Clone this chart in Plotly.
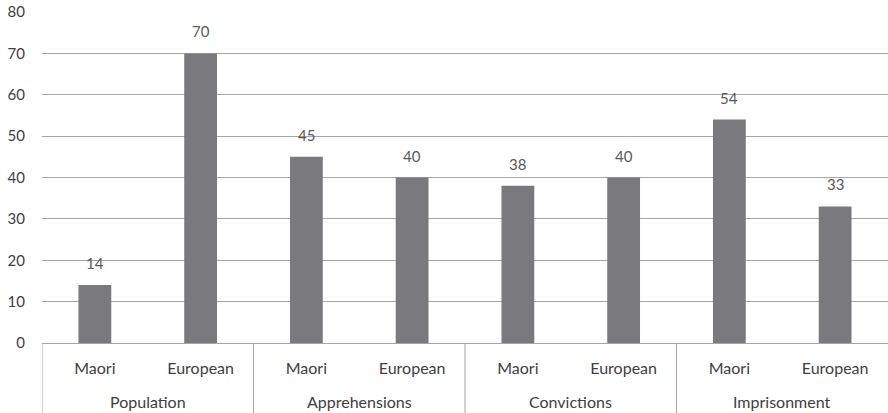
import plotly.graph_objects as go

groups = ["Population", "Apprehensions", "Convictions", "Imprisonment"]
ethnicity = ["Maori", "European", "Maori", "European",
             "Maori", "European", "Maori", "European"]
percent = [14, 70, 45, 40, 38, 40, 54, 33]

FONT = "Lato"
AXIS_GREY = "#a6a6a6"
positions = list(range(len(percent)))
per_group = len(ethnicity) // len(groups)

fig = go.Figure(
    go.Bar(
        x=positions,
        y=percent,
        width=0.31,
        marker=dict(color="#7a7a7e", line=dict(width=0)),
        hoverinfo="x+y",
    )
)

# value labels above each bar
for xi, v in zip(positions, percent):
    fig.add_annotation(
        x=xi, y=v, xref="x", yref="y",
        text=str(v), showarrow=False,
        yanchor="bottom", yshift=11,
        font=dict(family=FONT, size=15, color="#595959"),
    )

plot_h = 413 - 12 - 70

# group labels on the second row of the category axis
for gi, g in enumerate(groups):
    center = gi * per_group + (per_group - 1) / 2
    fig.add_annotation(
        x=center, xref="x", y=-(58.5 / plot_h), yref="paper",
        text=g, showarrow=False, yanchor="middle",
        font=dict(family=FONT, size=16, color="#404040"),
    )

# vertical dividers at the left edge and between groups,
# running down through both label rows
for gi in range(len(groups)):
    xb = gi * per_group - 0.5
    fig.add_shape(
        type="line", xref="x", yref="paper",
        x0=xb, x1=xb, y0=0, y1=-0.3,
        line=dict(color=AXIS_GREY, width=1),
        layer="above",
    )

fig.update_layout(
    width=888,
    height=413,
    margin=dict(l=42, r=0, t=12, b=70),
    paper_bgcolor="white",
    plot_bgcolor="white",
    showlegend=False,
    font=dict(family=FONT, size=15, color="#404040"),
)

fig.update_yaxes(
    range=[0, 80],
    dtick=10,
    showgrid=True,
    gridcolor=AXIS_GREY,
    gridwidth=1,
    zeroline=False,
    showline=False,
    ticks="",
    ticklabelstandoff=16,
    tickfont=dict(family=FONT, size=15, color="#404040"),
)

fig.update_xaxes(
    range=[-0.5, len(percent) - 0.5],
    tickmode="array",
    tickvals=positions,
    ticktext=ethnicity,
    showgrid=False,
    zeroline=False,
    showline=True,
    linecolor=AXIS_GREY,
    linewidth=1,
    ticks="",
    ticklabelstandoff=11,
    tickfont=dict(family=FONT, size=16, color="#404040"),
)

fig.write_html("out.html")
